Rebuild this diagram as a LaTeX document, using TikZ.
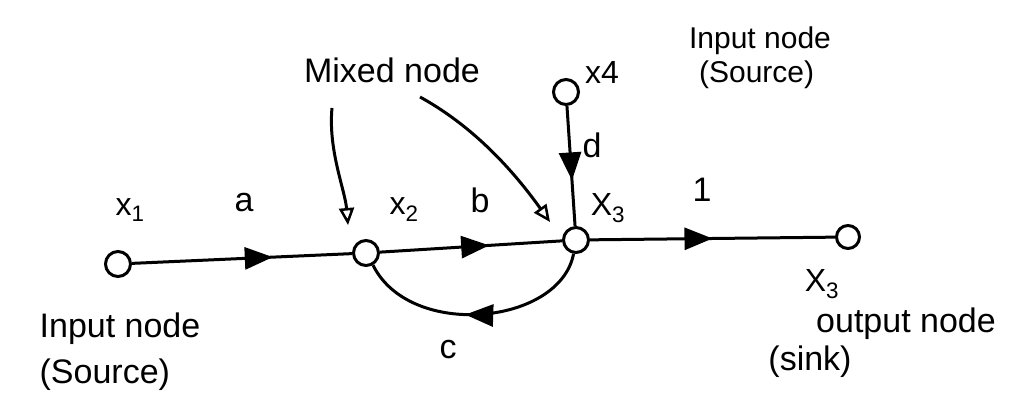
\documentclass[tikz,border=0pt]{standalone}
\usepackage{fontspec}
\setmainfont{Liberation Sans}
\usetikzlibrary{decorations.markings,arrows.meta}

\begin{document}
\begin{tikzpicture}[x=1pt,y=-1pt,
  sig/.style={circle,draw,line width=3pt,minimum size=25pt,inner sep=0pt},
  branch/.style={line width=3pt,postaction={decorate},
    decoration={markings,mark=at position #1 with {\arrow{Triangle[length=28pt,width=22pt]}}}},
  pointer/.style={line width=3pt,-{Triangle[open,length=17pt,width=15pt,line width=2.5pt]}},
  lbl/.style={font=\fontsize{34}{38}\selectfont,inner sep=0pt,align=left},
  var/.style={font=\fontsize{32}{36}\selectfont,inner sep=0pt}]
\useasboundingbox (0,0) rectangle (1030,409);

% signal nodes
\node[sig] (n1) at (118,264) {};
\node[sig] (n2) at (366,253) {};
\node[sig] (n3) at (576,240) {};
\node[sig] (n4) at (566,92) {};
\node[sig,minimum size=23pt] (n5) at (848,237) {};

% branches with gains
\draw[branch=0.64] (n1) -- (n2);
\draw[branch=0.6] (n2) -- (n3);
\draw[branch=0.5] (n3) -- (n5);
\draw[branch=0.62] (n4) -- (n3);
\draw[branch=0.55] (n3.-100) .. controls (560,325) and (410,340) .. (n2.-60);

% gain labels
\node[lbl] (ga) at (244,203) {a};
\node[lbl] (gb) at (480,200) {b};
\node[lbl] (g1) at (702,190) {1};
\node[lbl] (gd) at (592,145) {d};
\node[lbl] (gc) at (448,350) {c};

% variable labels
\node[var] (l1) at (130,210) {x\textsubscript{1}};
\node[var] (l2) at (404,210) {x\textsubscript{2}};
\node[var] (l3) at (608,208) {X\textsubscript{3}};
\node[var] (l4) at (602,72) {x4};
\node[var] (l5) at (822,284) {X\textsubscript{3}};

% annotations
\node[lbl] (mx) at (392,70) {Mixed node};
\node[lbl,font=\fontsize{30}{34}\selectfont] (src2) at (760,58) {Input node\\\hspace*{10pt}(Source)};
\node[lbl] (src1) at (120,352) {Input node\\[8pt](Source)};
\node[lbl] (out) at (906,324) {output node};
\node[lbl] (snk) at (810,362) {(sink)};

\coordinate (p1) at (332,108);
\coordinate (p2) at (420,97);
\draw[pointer] (p1) .. controls (328,150) and (345,190) .. (348,225);
\draw[pointer] (p2) .. controls (480,130) and (520,180) .. (550,222);
\end{tikzpicture}
\end{document}
